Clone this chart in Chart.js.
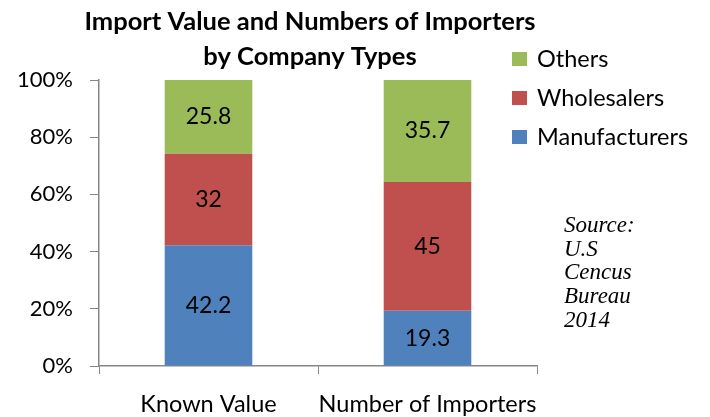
<!DOCTYPE html>
<html>
<head>
<meta charset="utf-8">
<script src="https://cdn.jsdelivr.net/npm/chart.js@4"></script>
<style>
  html, body { margin: 0; padding: 0; background: #fff; }
  #wrap { width: 710px; height: 417px; }
</style>
</head>
<body>
<div id="wrap"><canvas id="chart1"></canvas></div>
<script>
const categories = ['Known Value', 'Number of Importers'];
const manufacturers = [42.2, 19.3];
const wholesalers = [32, 45];
const others = [25.8, 35.7];
const titleLines = ['Import Value and Numbers of Importers', 'by Company Types'];
const sourceLines = ['Source:', 'U.S', 'Cencus', 'Bureau', '2014'];

const FONT = 'Lato, "Open Sans", sans-serif';
const axisGray = '#868686';

// values written in the middle of each segment
const segmentLabels = {
  id: 'segmentLabels',
  afterDatasetsDraw(chart) {
    const ctx = chart.ctx;
    ctx.save();
    ctx.font = '23px ' + FONT;
    ctx.fillStyle = '#000';
    ctx.textAlign = 'center';
    ctx.textBaseline = 'middle';
    chart.data.datasets.forEach((ds, i) => {
      chart.getDatasetMeta(i).data.forEach((bar, j) => {
        ctx.fillText(String(ds.data[j]), bar.x, (bar.y + bar.base) / 2);
      });
    });
    ctx.restore();
  }
};

// title, legend and source note
const extras = {
  id: 'extras',
  afterDraw(chart) {
    const ctx = chart.ctx;
    ctx.save();
    ctx.fillStyle = '#000';
    ctx.textAlign = 'center';
    ctx.textBaseline = 'middle';
    ctx.font = 'bold 25.5px ' + FONT;
    titleLines.forEach((t, i) => ctx.fillText(t, 310, 22 + i * 35));

    // legend, top of stack first
    ctx.textAlign = 'left';
    ctx.font = '23.5px ' + FONT;
    const items = chart.data.datasets.slice().reverse();
    items.forEach((ds, i) => {
      const y = 59 + i * 39;
      ctx.fillStyle = ds.backgroundColor;
      ctx.fillRect(512, y - 7, 15, 14);
      ctx.fillStyle = '#000';
      ctx.fillText(ds.label, 537, y);
    });

    ctx.font = 'italic 23px "Liberation Serif", serif';
    ctx.textBaseline = 'alphabetic';
    sourceLines.forEach((t, i) => ctx.fillText(t, 564, 232 + i * 23.7));
    ctx.restore();
  }
};

new Chart(document.getElementById('chart1'), {
  type: 'bar',
  data: {
    labels: categories,
    datasets: [
      { label: 'Manufacturers', data: manufacturers, backgroundColor: '#4F81BD' },
      { label: 'Wholesalers', data: wholesalers, backgroundColor: '#C0504D' },
      { label: 'Others', data: others, backgroundColor: '#9BBB59' },
    ],
  },
  options: {
    responsive: true,
    maintainAspectRatio: false,
    animation: false,
    barPercentage: 0.4,
    categoryPercentage: 1,
    layout: { padding: { top: 80, right: 173, left: 0, bottom: 0 } },
    plugins: {
      legend: { display: false },
      title: { display: false },
      tooltip: { enabled: false },
    },
    scales: {
      x: {
        stacked: true,
        afterFit(scale) { scale.height = 51; },
        grid: {
          offset: true,
          drawOnChartArea: false,
          tickLength: 8,
          color: axisGray,
        },
        border: { color: axisGray, width: 1.5 },
        ticks: {
          color: '#000',
          font: { family: FONT, size: 23.5 },
          padding: 16,
          maxRotation: 0,
          autoSkip: false,
        },
      },
      y: {
        stacked: true,
        min: 0,
        max: 100,
        afterFit(scale) { scale.width = 99; },
        grid: {
          drawOnChartArea: false,
          tickLength: 9,
          color: axisGray,
        },
        border: { color: axisGray, width: 1.5 },
        ticks: {
          stepSize: 20,
          color: '#000',
          font: { family: FONT, size: 22 },
          padding: 17,
          callback: (v) => v + '%',
        },
      },
    },
  },
  plugins: [segmentLabels, extras],
});
</script>
</body>
</html>
